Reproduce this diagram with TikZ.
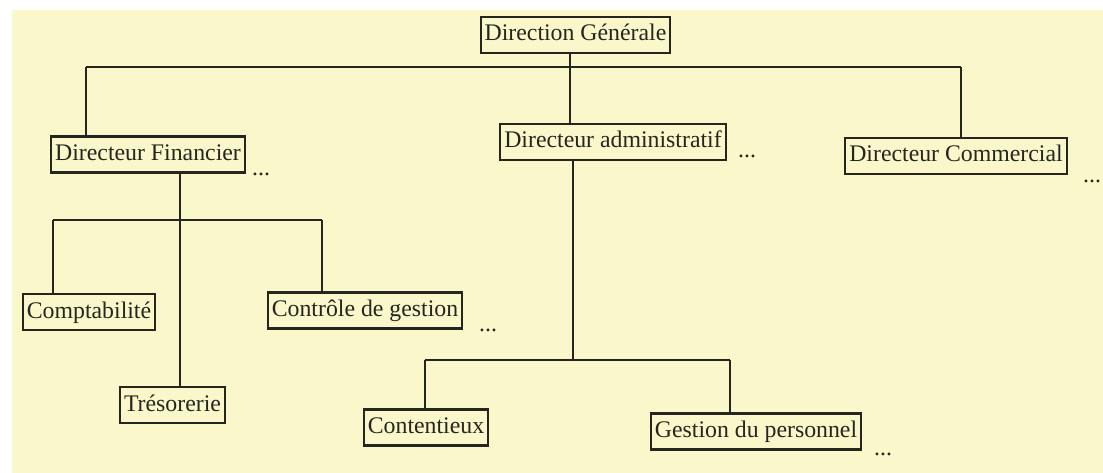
\documentclass[tikz,border=0pt]{standalone}
\usepackage{fontspec}
\setmainfont{Liberation Serif}
\definecolor{paper}{RGB}{250,247,202}
\definecolor{ink}{RGB}{38,38,32}
\begin{document}
\begin{tikzpicture}[x=1pt,y=-1pt,
  unit/.style={draw=ink, line width=2.1pt, fill=paper, text=ink,
    inner xsep=4pt, inner ysep=7pt, text height=17pt, text depth=5pt,
    font=\fontsize{23.8}{28}\selectfont},
  more/.style={anchor=base west, inner sep=0pt, text=ink,
    font=\fontsize{23.8}{28}\selectfont},
  link/.style={draw=ink, line width=2.1pt}]
  % page and coloured sheet
  \fill[white] (0,0) rectangle (1103,473);
  \fill[paper] (12,10) rectangle (1103,473);
  \useasboundingbox (0,0) rectangle (1103,473);

  % bus coordinates of the tree
  \coordinate (topL) at (86,67);
  \coordinate (topM) at (570,67);
  \coordinate (topR) at (961,67);
  \coordinate (finDown) at (180,220);
  \coordinate (finL) at (53,220);
  \coordinate (finR) at (322,220);
  \coordinate (admDown) at (573,360);
  \coordinate (admL) at (425,360);
  \coordinate (admR) at (730,360);

  % horizontal connectors
  \draw[link] (topL) -- (topR);
  \draw[link] (finL) -- (finR);
  \draw[link] (admL) -- (admR);

  % units
  \node[unit] (DG) at (575.5,35) {Direction Générale};
  \node[unit] (DF) at (148,154.5) {Directeur Financier};
  \node[unit] (DA) at (613,142) {Directeur administratif};
  \node[unit] (DC) at (956,156) {Directeur Commercial};
  \node[unit] (CPT) at (89,312) {Comptabilité};
  \node[unit] (CDG) at (365,310.5) {Contrôle de gestion};
  \node[unit] (TRE) at (172.5,405) {Trésorerie};
  \node[unit] (CTX) at (426,427.5) {Contentieux};
  \node[unit] (GDP) at (756,431.5) {Gestion du personnel};

  % vertical connectors
  \draw[link] (topM |- DG.south) -- (topM |- DA.north);
  \draw[link] (topL) -- (topL |- DF.north);
  \draw[link] (topR) -- (topR |- DC.north);
  \draw[link] (finDown |- DF.south) -- (finDown |- TRE.north);
  \draw[link] (finL) -- (finL |- CPT.north);
  \draw[link] (finR) -- (finR |- CDG.north);
  \draw[link] (admDown |- DA.south) -- (admDown);
  \draw[link] (admL) -- (admL |- CTX.north);
  \draw[link] (admR) -- (admR |- GDP.north);

  % ellipses after some units
  \node[more] (mDF) at (252,175.5) {...};
  \node[more] (mDA) at (738,158) {...};
  \node[more] (mDC) at (1083,183) {...};
  \node[more] (mCDG) at (479,331.5) {...};
  \node[more] (mGDP) at (874,455.5) {...};
\end{tikzpicture}
\end{document}
